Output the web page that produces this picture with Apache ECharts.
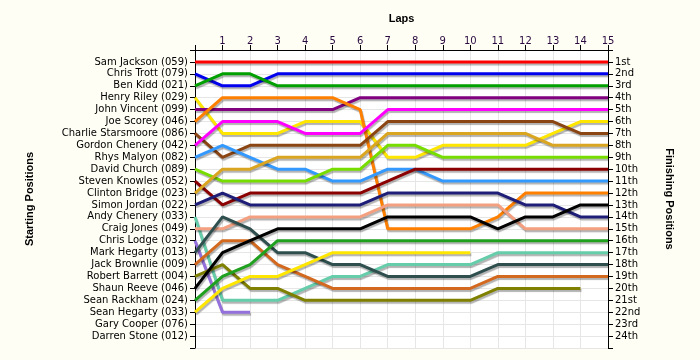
<!DOCTYPE html>
<html>
<head>
<meta charset="utf-8">
<script src="https://cdn.jsdelivr.net/npm/echarts@6/dist/echarts.min.js"></script>
<style>
html,body{margin:0;padding:0;background:#FFFEF4;}
#c{width:700px;height:360px;}
</style>
</head>
<body>
<div id="c"></div>
<script>
// ---- data ----
var laps = [0,1,2,3,4,5,6,7,8,9,10,11,12,13,14,15];
var lapLabels = ['', '1','2','3','4','5','6','7','8','9','10','11','12','13','14','15'];
var startNames = [
  'Sam Jackson (059)','Chris Trott (079)','Ben Kidd (021)','Henry Riley (029)',
  'John Vincent (099)','Joe Scorey (046)','Charlie Starsmoore (086)','Gordon Chenery (042)',
  'Rhys Malyon (082)','David Church (089)','Steven Knowles (052)','Clinton Bridge (023)',
  'Simon Jordan (022)','Andy Chenery (033)','Craig Jones (049)','Chris Lodge (032)',
  'Mark Hegarty (013)','Jack Brownlie (009)','Robert Barrett (004)','Shaun Reeve (046)',
  'Sean Rackham (024)','Sean Hegarty (033)','Gary Cooper (076)','Darren Stone (012)'
];
var finishLabels = ['1st','2nd','3rd','4th','5th','6th','7th','8th','9th','10th','11th','12th',
  '13th','14th','15th','16th','17th','18th','19th','20th','21st','22nd','23rd','24th'];

var samJackson      = [1,1,1,1,1,1,1,1,1,1,1,1,1,1,1,1];
var chrisTrott      = [2,3,3,2,2,2,2,2,2,2,2,2,2,2,2,2];
var benKidd         = [3,2,2,3,3,3,3,3,3,3,3,3,3,3,3,3];
var henryRiley      = [4,7,7,7,6,6,6,9,9,8,8,8,8,7,6,6];
var johnVincent     = [5,5,5,5,5,5,4,4,4,4,4,4,4,4,4,4];
var joeScorey       = [6,4,4,4,4,4,5,15,15,15,15,14,12,12,12,12];
var charlieStars    = [7,9,8,8,8,8,8,6,6,6,6,6,6,6,7,7];
var gordonChenery   = [8,6,6,6,7,7,7,5,5,5,5,5,5,5,5,5];
var rhysMalyon      = [9,8,9,10,10,11,11,10,10,11,11,11,11,11,11,11];
var davidChurch     = [10,11,11,11,11,10,10,8,8,9,9,9,9,9,9,9];
var stevenKnowles   = [11,13,12,12,12,12,12,11,10,10,10,10,10,10,10,10];
var clintonBridge   = [12,10,10,9,9,9,9,7,7,7,7,7,7,8,8,8];
var simonJordan     = [13,12,13,13,13,13,13,12,12,12,12,12,13,13,14,14];
var andyChenery     = [14,21,21,21,20,19,19,18,18,18,18,17,17,17,17,17];
var craigJones      = [15,15,14,14,14,14,14,13,13,13,13,13,15,15,15,15];
var chrisLodge      = [16,22,22];
var markHegarty     = [17,14,15,17,17,18,18,19,19,19,19,18,18,18,18,18];
var jackBrownlie    = [18,16,16,18,19,20,20,20,20,20,20,19,19,19,19,19];
var robertBarrett   = [19,18,20,20,21,21,21,21,21,21,21,20,20,20,20];
var shaunReeve      = [20,17,16,15,15,15,15,14,14,14,14,15,14,14,13,13];
var seanRackham     = [21,19,18,16,16,16,16,16,16,16,16,16,16,16,16,16];
var seanHegarty     = [22,20,19,19,18,17,17,17,17,17,17];

var driverSeries = [samJackson, chrisTrott, benKidd, henryRiley, johnVincent, joeScorey,
  charlieStars, gordonChenery, rhysMalyon, davidChurch, stevenKnowles, clintonBridge,
  simonJordan, andyChenery, craigJones, chrisLodge, markHegarty, jackBrownlie,
  robertBarrett, shaunReeve, seanRackham, seanHegarty];

// ---- styles ----
var colors = ['#FF0000','#0000EE','#00A000','#FFE600','#800080','#FF8000',
  '#8B4513','#FF00FF','#3399FF','#77DD00','#8B0000','#DAA520',
  '#1E1E78','#66CDAA','#F4A080','#9370DB','#2F4F4F','#D2691E',
  '#808000','#000000','#1FA01F','#FFE600'];

var series = driverSeries.map(function (arr, i) {
  return {
    type: 'line',
    name: startNames[i],
    data: arr.map(function (p, k) { return [laps[k], p]; }),
    showSymbol: false,
    symbol: 'none',
    lineStyle: {
      width: 3,
      color: colors[i],
      shadowColor: 'rgba(0,0,0,0.3)',
      shadowBlur: 1,
      shadowOffsetX: 1,
      shadowOffsetY: 2
    },
    z: 3,
    silent: true
  };
});

var labelFont = {fontFamily: 'DejaVu Sans', fontSize: 10, color: '#000'};
var nameFont = {fontFamily: 'Liberation Sans', fontSize: 11, fontWeight: 'bold', color: '#000'};

var chart = echarts.init(document.getElementById('c'), null, {renderer: 'canvas'});
chart.setOption({
  backgroundColor: '#FFFEF4',
  animation: false,
  grid: {left: 195, top: 50, right: 92, bottom: 12, show: true, backgroundColor: '#FFFFFF', borderWidth: 0},
  xAxis: {
    type: 'value', position: 'top', min: 0, max: 15, interval: 1,
    name: 'Laps', nameLocation: 'middle', nameGap: 26, nameTextStyle: nameFont,
    axisLine: {show: true, lineStyle: {color: '#000', width: 1}},
    axisTick: {show: true, length: 5, lineStyle: {color: '#000'}},
    axisLabel: {margin: 4, color: '#2a0a40', fontFamily: 'DejaVu Sans', fontSize: 10,
      formatter: function (v) { return lapLabels[v] || ''; }},
    splitLine: {show: true, lineStyle: {color: '#E6E6E6', width: 1}}
  },
  yAxis: [{
    type: 'value', position: 'left', inverse: true, min: 0, max: 25, interval: 1,
    name: 'Starting Positions', nameLocation: 'middle', nameGap: 160, nameRotate: 90, nameTextStyle: nameFont,
    axisLine: {show: true, lineStyle: {color: '#000', width: 1}},
    axisTick: {show: true, length: 5, lineStyle: {color: '#000'}},
    axisLabel: Object.assign({margin: 7, formatter: function (v) { return startNames[v - 1] || ''; }}, labelFont),
    splitLine: {show: true, lineStyle: {color: '#E6E6E6', width: 1}}
  }, {
    type: 'value', position: 'right', inverse: true, min: 0, max: 25, interval: 1,
    name: 'Finishing Positions', nameLocation: 'middle', nameGap: 56, nameRotate: -90, nameTextStyle: nameFont,
    axisLine: {show: true, lineStyle: {color: '#000', width: 1}},
    axisTick: {show: true, length: 5, lineStyle: {color: '#000'}},
    axisLabel: Object.assign({margin: 7, formatter: function (v) { return finishLabels[v - 1] || ''; }}, labelFont),
    splitLine: {show: false}
  }],
  series: series
});
</script>
</body>
</html>
